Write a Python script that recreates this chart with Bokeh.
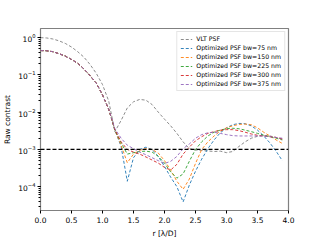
import numpy as np
from bokeh.plotting import figure
from bokeh.models import Span, Range1d, NumeralTickFormatter, FixedTicker
from bokeh.embed import file_html
from bokeh.resources import INLINE

r = [round(0.1 * i, 1) for i in range(40)]

core = [0.45, 0.445, 0.42, 0.37, 0.32, 0.26, 0.205, 0.145, 0.095, 0.060, 0.029, 0.012]

vlt = [1.0, 0.98, 0.92, 0.82, 0.70, 0.56, 0.42, 0.30, 0.19, 0.11, 0.055, 0.020,
       3.0e-3, 6.0e-3, 1.3e-2, 1.9e-2, 2.2e-2, 2.1e-2, 1.6e-2, 1.0e-2,
       6.5e-3, 4.3e-3, 2.7e-3, 1.6e-3, 1.05e-3, 9.7e-4, 9.4e-4, 9.1e-4, 8.8e-4, 9.0e-4,
       8.2e-4, 8.8e-4, 1.2e-3, 1.6e-3, 2.0e-3, 2.25e-3, 2.35e-3, 2.3e-3, 2.1e-3, 1.9e-3]

bw75 = core + [3.3e-3, 1.2e-3, 1.4e-4, 6.0e-4, 1.0e-3, 1.15e-3, 1.0e-3, 6.5e-4,
               3.5e-4, 1.8e-4, 1.0e-4, 3.9e-5, 1.1e-4, 2.6e-4, 5.5e-4, 1.05e-3, 1.8e-3, 2.8e-3,
               3.8e-3, 4.6e-3, 5.0e-3, 4.9e-3, 4.3e-3, 3.3e-3, 2.3e-3, 1.5e-3, 9.0e-4, 5.0e-4]

bw150 = core + [3.3e-3, 1.3e-3, 4.4e-4, 7.5e-4, 9.5e-4, 1.05e-3, 1.0e-3, 8.0e-4,
                5.0e-4, 2.8e-4, 1.4e-4, 8.5e-5, 1.6e-4, 4.2e-4, 1.0e-3, 1.6e-3, 2.3e-3, 3.1e-3,
                3.8e-3, 4.3e-3, 4.7e-3, 4.8e-3, 4.6e-3, 3.8e-3, 2.9e-3, 2.3e-3, 1.8e-3, 1.45e-3]

bw225 = core + [3.3e-3, 1.5e-3, 7.5e-4, 8.2e-4, 8.8e-4, 9.0e-4, 8.5e-4, 6.5e-4,
                4.3e-4, 2.5e-4, 1.7e-4, 2.2e-4, 4.8e-4, 1.0e-3, 1.6e-3, 2.3e-3, 2.9e-3, 3.3e-3,
                3.6e-3, 3.7e-3, 3.6e-3, 3.3e-3, 3.0e-3, 2.7e-3, 2.4e-3, 2.2e-3, 2.0e-3, 1.8e-3]

bw300 = core + [3.4e-3, 1.6e-3, 1.0e-3, 8.5e-4, 7.5e-4, 6.3e-4, 5.2e-4, 4.3e-4,
                3.3e-4, 2.8e-4, 4.0e-4, 7.5e-4, 1.15e-3, 1.7e-3, 2.2e-3, 2.7e-3, 3.0e-3, 3.3e-3,
                3.4e-3, 3.4e-3, 3.2e-3, 2.9e-3, 2.6e-3, 2.4e-3, 2.3e-3, 2.2e-3, 2.1e-3, 1.9e-3]

bw375 = core + [3.6e-3, 2.0e-3, 1.3e-3, 1.05e-3, 8.5e-4, 7.2e-4, 6.0e-4, 5.0e-4,
                4.2e-4, 4.8e-4, 6.5e-4, 1.05e-3, 1.4e-3, 2.0e-3, 2.5e-3, 2.8e-3, 2.9e-3, 2.7e-3,
                2.5e-3, 2.35e-3, 2.3e-3, 2.3e-3, 2.3e-3, 2.3e-3, 2.3e-3, 2.2e-3, 2.1e-3, 2.0e-3]

labels = ["VLT PSF", "Optimized PSF bw=75 nm", "Optimized PSF bw=150 nm",
          "Optimized PSF bw=225 nm", "Optimized PSF bw=300 nm", "Optimized PSF bw=375 nm"]
series = [vlt, bw75, bw150, bw225, bw300, bw375]
colors = ["#7f7f7f", "#1f77b4", "#ff7f0e", "#2ca02c", "#d62728", "#9467bd"]

x_ticks = [0, 0.5, 1, 1.5, 2, 2.5, 3, 3.5, 4]
threshold = 1e-3

p = figure(width=320, height=240, output_backend="svg", toolbar_location=None,
           y_axis_type="log", x_range=Range1d(0, 4), y_range=Range1d(2.3e-5, 1.76),
           min_border_left=40, min_border_right=32, min_border_top=28, min_border_bottom=27)

for ys, c, lab in zip(series, colors, labels):
    p.line(r, ys, line_color=c, line_width=1, line_dash="3 2", line_alpha=0.9,
           legend_label=lab)

p.add_layout(Span(location=threshold, dimension="width", line_color="black",
                  line_dash="4 2", line_width=1.2))

p.xgrid.visible = False
p.ygrid.visible = False
p.outline_line_color = "#808080"
p.outline_line_width = 1.2
p.background_fill_color = "white"
p.border_fill_color = "white"

for ax in (p.xaxis, p.yaxis):
    ax.axis_line_color = None
    ax.major_tick_line_color = "black"
    ax.minor_tick_line_color = "black"
    ax.major_tick_in = 0
    ax.major_tick_out = 3
    ax.minor_tick_in = 0
    ax.minor_tick_out = 2
    ax.major_label_text_font = "DejaVu Sans"
    ax.major_label_text_font_size = "7.5px"
    ax.major_label_text_color = "black"
    ax.axis_label_text_font = "DejaVu Sans"
    ax.axis_label_text_font_size = "7.5px"
    ax.axis_label_text_font_style = "normal"
    ax.axis_label_text_color = "black"

p.xaxis.ticker = FixedTicker(ticks=x_ticks)
p.xaxis.formatter = NumeralTickFormatter(format="0.0")
p.xaxis.minor_tick_line_color = None
p.xaxis.major_label_standoff = 3
p.xaxis.axis_label_standoff = 3
p.xaxis.axis_label = "r [λ/D]"
p.yaxis.axis_label = "Raw contrast"
p.yaxis.major_label_standoff = 2
p.yaxis.axis_label_standoff = 3

p.legend.location = "top_right"
p.legend.label_text_font = "DejaVu Sans"
p.legend.label_text_font_size = "6.2px"
p.legend.label_text_color = "black"
p.legend.glyph_width = 12
p.legend.glyph_height = 6
p.legend.label_height = 6
p.legend.label_standoff = 4
p.legend.spacing = 2
p.legend.padding = 3
p.legend.margin = 3
p.legend.border_line_color = "#cccccc"
p.legend.border_line_width = 1
p.legend.background_fill_alpha = 0.8

open("out.html", "w").write(file_html(p, INLINE))
